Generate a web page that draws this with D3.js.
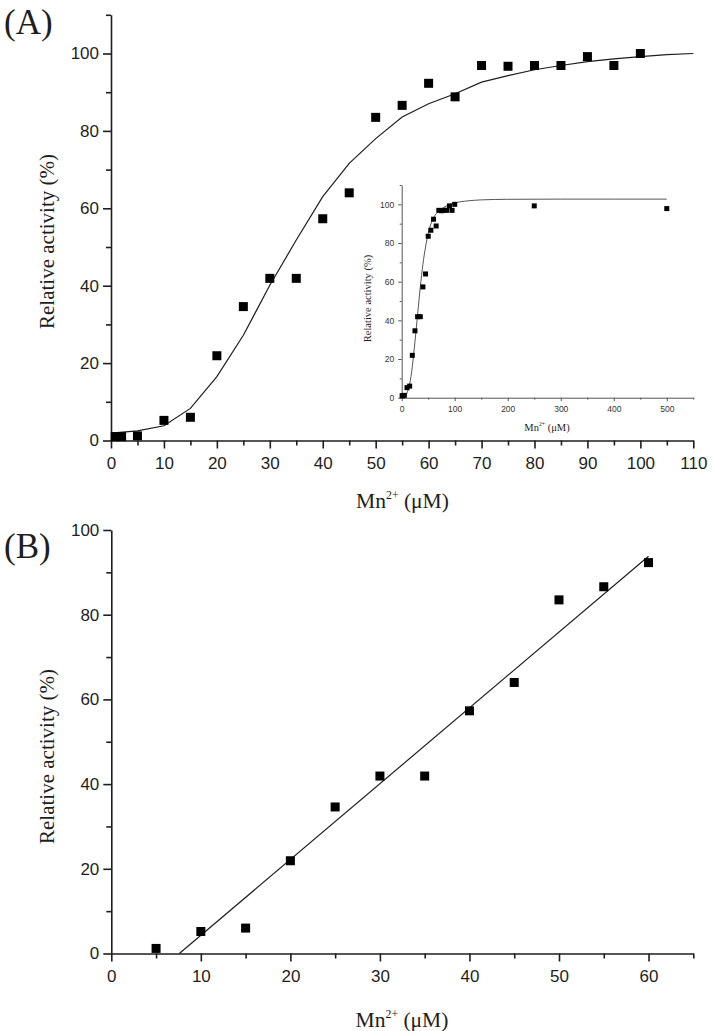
<!DOCTYPE html>
<html>
<head>
<meta charset="utf-8">
<script src="https://cdn.jsdelivr.net/npm/d3@7"></script>
<style>
  body { margin: 0; background: #fff; }
  .tick text { font-family: "Liberation Sans", Arial, sans-serif; }
</style>
</head>
<body>
<svg id="chart" width="714" height="1031"></svg>
<script>
// measured points (Mn2+ in uM, relative activity in %)
const mnConc   = [0.8, 2, 5, 10, 15, 20, 25, 30, 35, 40, 45, 50, 55, 60, 65, 70, 75, 80, 85, 90, 95, 100];
const activity = [1.0, 1.0, 1.2, 5.2, 6.0, 21.9, 34.6, 41.9, 41.9, 57.3, 64.0, 83.5, 86.6, 92.3, 88.8, 96.9, 96.7, 96.9, 96.9, 99.2, 96.9, 100];

// extra points only shown in the inset
const highConc = [250, 500];
const highActivity = [99.2, 97.8];

// fitted curve of panel A
const fitConc     = [0, 5, 10, 15, 20, 25, 30, 35, 40, 45, 50, 55, 60, 65, 70, 75, 80, 85, 90, 95, 100, 105, 110];
const fitActivity = [1.9, 2.5, 3.8, 8.3, 16.5, 27.2, 40.1, 51.8, 63.0, 71.6, 78.0, 83.6, 87.0, 89.6, 92.6, 94.3, 95.8, 96.9, 97.9, 98.6, 99.2, 99.7, 100.0];

// fitted curve of the inset
const insetFitConc     = [5, 10, 15, 20, 25, 30, 35, 40, 45, 50, 60, 70, 80, 90, 100, 125, 150, 200, 300, 400, 500];
const insetFitActivity = [0.5, 2.5, 7, 16, 29, 43, 57, 69, 78, 85, 93, 96.5, 98.5, 99.8, 100.7, 101.8, 102.3, 102.6, 102.7, 102.7, 102.7];

// linear part used in panel B
const linearConc = [5, 10, 15, 20, 25, 30, 35, 40, 45, 50, 55, 60];
const lineConc     = [7.6, 60];
const lineActivity = [0, 93.8];

const xTitle = "Mn", xSup = "2+", xUnit = " (\u03bcM)";
const yTitle = "Relative activity (%)";

const svg = d3.select("#chart");
const ink = "#1e1e1e";

function drawAxes(g, x, y, o) {
    const xa = g.append("g").attr("transform", `translate(0,${y.range()[0]})`)
        .call(d3.axisBottom(x).tickValues(o.xMajor).tickSize(o.major).tickSizeOuter(0)
            .tickPadding(o.xPad).tickFormat(d3.format("d")));
    g.append("g").attr("transform", `translate(0,${y.range()[0]})`)
        .call(d3.axisBottom(x).tickValues(o.xMinor).tickSize(o.minor).tickSizeOuter(0).tickFormat(""))
        .select(".domain").remove();
    const ya = g.append("g").attr("transform", `translate(${x.range()[0]},0)`)
        .call(d3.axisLeft(y).tickValues(o.yMajor).tickSize(o.major).tickSizeOuter(0)
            .tickPadding(o.yPad).tickFormat(d3.format("d")));
    g.append("g").attr("transform", `translate(${x.range()[0]},0)`)
        .call(d3.axisLeft(y).tickValues(o.yMinor).tickSize(o.minor).tickSizeOuter(0).tickFormat(""))
        .select(".domain").remove();

    g.selectAll(".domain").attr("stroke", o.color).attr("stroke-width", o.width);
    g.selectAll(".tick line").attr("stroke", o.color).attr("stroke-width", o.width);
    g.selectAll(".tick text").attr("fill", o.textColor).style("font-size", o.font + "px");
}

function xLabel(g, cx, by, size) {
    const t = g.append("text").attr("x", cx).attr("y", by).attr("text-anchor", "middle")
        .attr("font-family", "'Liberation Serif', 'Times New Roman', serif")
        .attr("font-size", size).attr("fill", ink);
    t.append("tspan").text(xTitle);
    t.append("tspan").attr("dy", -size * 0.42).attr("font-size", size * 0.55).text(xSup);
    t.append("tspan").attr("dy", size * 0.42).text(xUnit);
}

function yLabel(g, bx, cy, size) {
    g.append("text").attr("transform", `translate(${bx},${cy}) rotate(-90)`)
        .attr("text-anchor", "middle")
        .attr("font-family", "'Liberation Serif', 'Times New Roman', serif")
        .attr("font-size", size).attr("fill", ink).text(yTitle);
}

function squares(g, xs, ys, x, y, s) {
    g.append("g").selectAll("rect").data(xs).join("rect")
        .attr("x", d => x(d) - s / 2)
        .attr("y", (d, i) => y(ys[i]) - s / 2)
        .attr("width", s).attr("height", s)
        .attr("fill", "#000");
}

function curve(g, xs, ys, x, y, c, color, w) {
    g.append("path")
        .datum(xs.map((d, i) => [d, ys[i]]))
        .attr("fill", "none").attr("stroke", color).attr("stroke-width", w)
        .attr("d", d3.line().x(d => x(d[0])).y(d => y(d[1])).curve(c));
}

const mainAxis = {
    major: 8, minor: 5, xPad: 8, yPad: 4, color: ink, width: 1.6, textColor: ink, font: 17
};

// ---------- panel A ----------
const gA = svg.append("g");
const xA = d3.scaleLinear().domain([0, 110]).range([111, 693.3]);
const yA = d3.scaleLinear().domain([0, 110]).range([440.5, 14.8]);

drawAxes(gA, xA, yA, Object.assign({}, mainAxis, {
    xMajor: d3.range(0, 111, 10), xMinor: d3.range(5, 110, 10),
    yMajor: d3.range(0, 101, 20), yMinor: d3.range(10, 111, 20)
}));
curve(gA, fitConc, fitActivity, xA, yA, d3.curveLinear, ink, 1.2);
squares(gA, mnConc, activity, xA, yA, 9);
xLabel(gA, 402.5, 508, 21.5);
yLabel(gA, 53.5, 241.5, 21);
gA.append("text").attr("x", 4).attr("y", 33.5)
    .attr("font-family", "'Liberation Serif', 'Times New Roman', serif")
    .attr("font-size", 35).attr("fill", ink).text("(A)");

// ---------- inset ----------
const gI = svg.append("g");
const xI = d3.scaleLinear().domain([0, 550]).range([401.7, 693.3]);
const yI = d3.scaleLinear().domain([0, 110]).range([397.7, 185]);

drawAxes(gI, xI, yI, {
    major: 3.5, minor: 2, xPad: 5, yPad: 4, color: "#555", width: 1, textColor: "#333", font: 8.5,
    xMajor: d3.range(0, 501, 100), xMinor: d3.range(50, 551, 100),
    yMajor: d3.range(0, 101, 20), yMinor: d3.range(10, 111, 20)
});
curve(gI, insetFitConc, insetFitActivity, xI, yI, d3.curveMonotoneX, "#555", 1);
squares(gI, mnConc.concat(highConc), activity.concat(highActivity), xI, yI, 5);
xLabel(gI, 547, 430.5, 10.5);
yLabel(gI, 370.5, 298.5, 10.5);

// ---------- panel B ----------
const gB = svg.append("g");
const xB = d3.scaleLinear().domain([0, 65]).range([111.3, 693.3]);
const yB = d3.scaleLinear().domain([0, 100]).range([953.5, 530]);

drawAxes(gB, xB, yB, Object.assign({}, mainAxis, {
    xMajor: d3.range(0, 61, 10), xMinor: d3.range(5, 66, 10),
    yMajor: d3.range(0, 101, 20), yMinor: d3.range(10, 100, 20)
}));
curve(gB, lineConc, lineActivity, xB, yB, d3.curveLinear, ink, 1.2);
squares(gB, linearConc, linearConc.map(c => activity[mnConc.indexOf(c)]), xB, yB, 9);
xLabel(gB, 402, 1027, 21.5);
yLabel(gB, 53.5, 756.5, 21);
gB.append("text").attr("x", 4).attr("y", 558)
    .attr("font-family", "'Liberation Serif', 'Times New Roman', serif")
    .attr("font-size", 35).attr("fill", ink).text("(B)");
</script>
</body>
</html>
